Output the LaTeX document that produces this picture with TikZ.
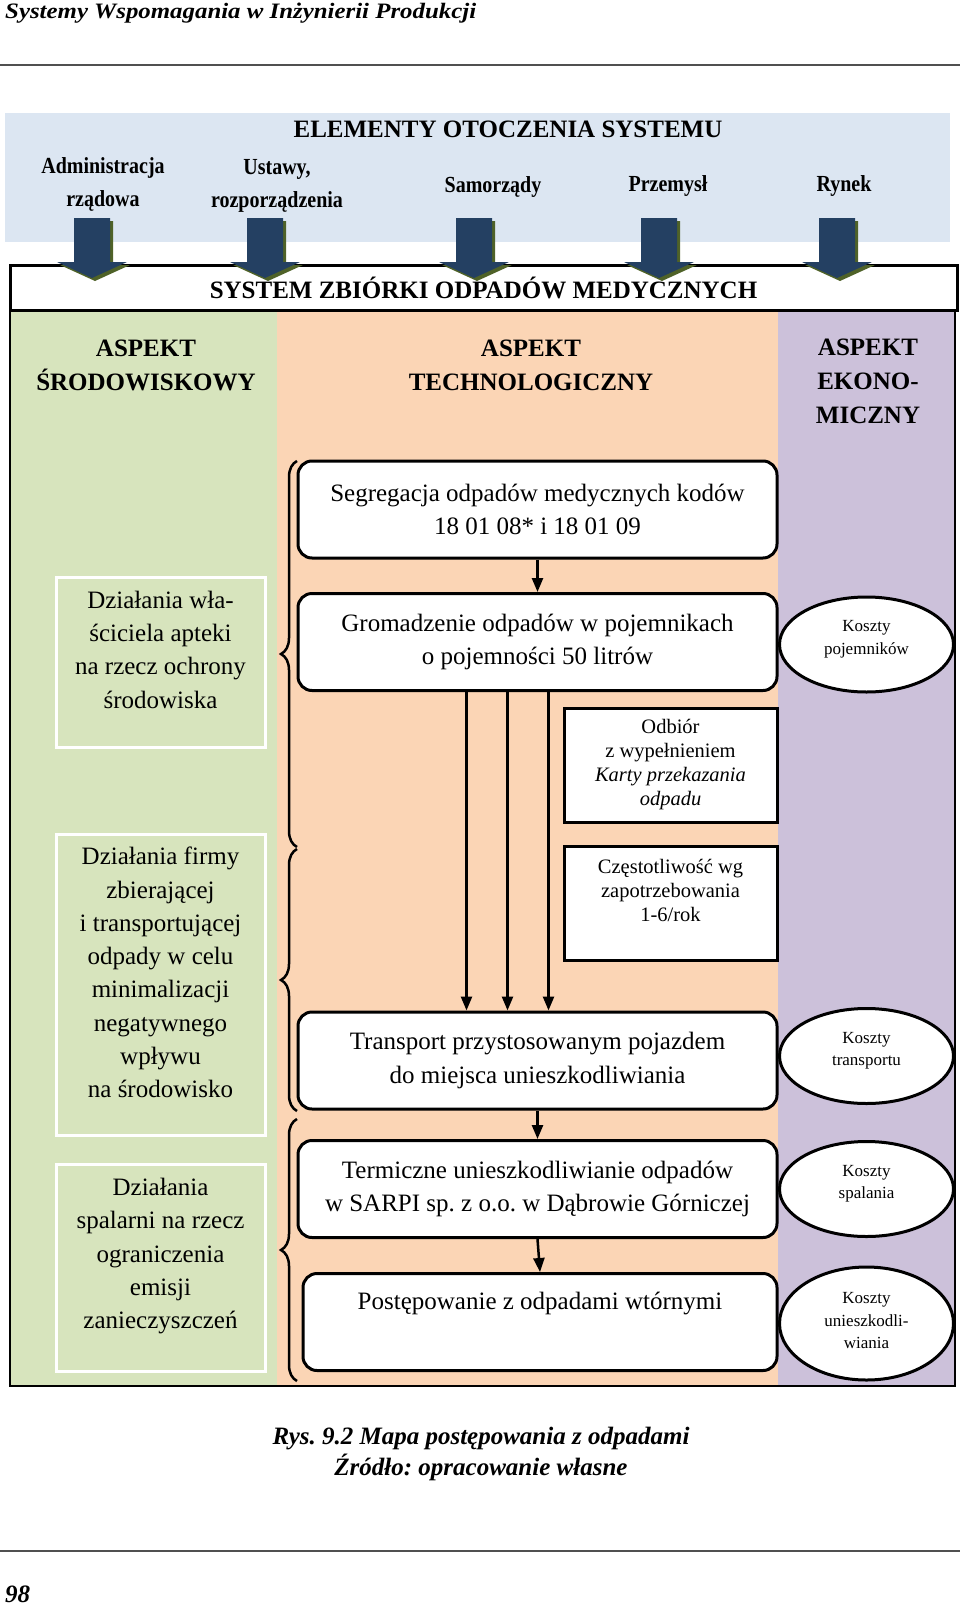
\documentclass[tikz,border=0pt]{standalone}
\usepackage{fontspec}
\setmainfont{Liberation Serif}
\newfontfamily\narrowfont[FakeStretch=0.87]{Liberation Serif}
\newfontfamily\titlefont[FakeStretch=1.13]{Liberation Serif}
\usetikzlibrary{positioning,shapes.geometric,arrows.meta,decorations.pathreplacing}
\frenchspacing

\definecolor{envblue}{RGB}{220,230,242}
\definecolor{envgreen}{RGB}{215,228,189}
\definecolor{techorange}{RGB}{251,213,181}
\definecolor{ecopurple}{RGB}{204,193,218}
\definecolor{arrownavy}{RGB}{36,64,98}
\definecolor{shadowgreen}{RGB}{79,98,40}
\definecolor{rulegray}{RGB}{80,80,80}

\begin{document}
\begin{tikzpicture}[
        x=1pt, y=-1pt,
        every node/.style={inner sep=0pt, align=center},
        header/.style={font=\fontsize{25}{34}\selectfont\bfseries},
        actor/.style={font=\narrowfont\fontsize{23}{33}\selectfont\bfseries},
        process/.style={draw, line width=3pt, rounded corners=14pt, fill=white,
                minimum width=479pt, minimum height=97pt, font=\fontsize{25}{33.5}\selectfont},
        note/.style={draw, line width=3pt, fill=white, minimum width=213pt,
                minimum height=114pt, font=\fontsize{20.5}{24}\selectfont},
        cost/.style={ellipse, draw, line width=3pt, fill=white, minimum width=174pt,
                minimum height=95pt, text depth=14pt, font=\fontsize{17}{22.5}\selectfont},
        envbox/.style={draw=white, line width=3pt, minimum width=209pt,
                font=\fontsize{25}{33.3}\selectfont},
        flow/.style={line width=2.5pt, -{Triangle[length=14pt,width=11pt]}},
        bracket/.style={line width=2.5pt, decorate, decoration={brace, amplitude=16pt}},
        caption/.style={font=\fontsize{25}{31}\selectfont\bfseries\itshape},
    ]
    \useasboundingbox (0,0) rectangle (960,1608);

    % page header and footer
    \node[anchor=base west, font=\titlefont\fontsize{22}{26}\selectfont\bfseries\itshape]
        (pagetitle) at (5,19) {Systemy Wspomagania w Inżynierii Produkcji};
    \draw[rulegray, line width=2pt] (0,65) -- (960,65);
    \draw[rulegray, line width=2pt] (0,1551) -- (960,1551);
    \node[anchor=base west, caption] (pageno) at (5,1602) {98};
    \node[caption] (figcaption) at (481,1454)
        {Rys. 9.2 Mapa postępowania z odpadami\\Źródło: opracowanie własne};

    % background areas
    \fill[envblue] (5,113) rectangle (950,242);
    \fill[envgreen] (10,310) rectangle (277,1386);
    \fill[techorange] (277,310) rectangle (778,1386);
    \fill[ecopurple] (778,310) rectangle (955,1386);
    \draw[line width=2pt] (10,310) -- (10,1386) -- (955,1386) -- (955,310);

    % system environment
    \node[header] (envtitle) at (508,129) {ELEMENTY OTOCZENIA SYSTEMU};
    \node[actor] (adm) at (103,184) {Administracja\\rządowa};
    \node[actor] (law) at (277,186) {Ustawy,\\rozporządzenia};
    \node[actor] (local) at (493,187) {Samorządy};
    \node[actor] (industry) at (668,186) {Przemysł};
    \node[actor] (market) at (844,186) {Rynek};

    \node[draw, line width=3pt, fill=white, minimum width=947pt, minimum height=45pt,
        header] (system) at (483.5,287.5) {SYSTEM ZBIÓRKI ODPADÓW MEDYCZNYCH};

    % block arrows into the system
    \foreach \ax in {92,265,474,659,837} {
        \fill[shadowgreen, shift={(3,3)}] (\ax-18,218) -- (\ax+18,218) -- (\ax+18,262)
            -- (\ax+35,262) -- (\ax,278) -- (\ax-35,262) -- (\ax-18,262) -- cycle;
        \fill[arrownavy] (\ax-18,218) -- (\ax+18,218) -- (\ax+18,262)
            -- (\ax+35,262) -- (\ax,278) -- (\ax-35,262) -- (\ax-18,262) -- cycle;
    }

    % aspects
    \node[header] (envhead) at (146,365) {ASPEKT\\ŚRODOWISKOWY};
    \node[header] (techhead) at (531,365) {ASPEKT\\TECHNOLOGICZNY};
    \node[header] (ecohead) at (868,381.5) {ASPEKT\\EKONO-\\MICZNY};

    % environmental actions
    \node[envbox, minimum height=170pt, text depth=25pt] (env1) at (160.5,662)
        {Działania wła-\\ściciela apteki\\na rzecz ochrony\\środowiska};
    \node[envbox, minimum height=301pt, text depth=24pt] (env2) at (160.5,984.5)
        {Działania firmy\\zbierającej\\i transportującej\\odpady w celu\\minimalizacji\\negatywnego\\wpływu\\na środowisko};
    \node[envbox, minimum height=207pt, text depth=28pt] (env3) at (160.5,1267.5)
        {Działania\\spalarni na rzecz\\ograniczenia\\emisji\\zanieczyszczeń};

    % technological chain
    \node[process] (segr) at (537.5,509.5)
        {Segregacja odpadów medycznych kodów\\18 01 08* i 18 01 09};
    \node[process] (grom) at (537.5,642)
        {Gromadzenie odpadów w pojemnikach\\o pojemności 50 litrów};
    \node[note] (odbior) at (670.5,765)
        {Odbiór\\z wypełnieniem\\\textit{Karty przekazania}\\\textit{odpadu}};
    \node[note, text depth=25pt] (czest) at (670.5,903)
        {Częstotliwość wg\\zapotrzebowania\\1-6/rok};
    \node[process] (trans) at (537.5,1060.5)
        {Transport przystosowanym pojazdem\\do miejsca unieszkodliwiania};
    \node[process] (term) at (537.5,1189)
        {Termiczne unieszkodliwianie odpadów\\w SARPI sp. z o.o. w Dąbrowie Górniczej};
    \node[process, minimum width=474pt, text depth=43pt] (post) at (540,1322)
        {Postępowanie z odpadami wtórnymi};

    \draw[flow] (segr) -- (grom);
    \foreach \dx in {-71,-30,11}
        \draw[flow] ([xshift=\dx pt]grom.south) -- ([xshift=\dx pt]grom.south |- trans.north);
    \draw[flow] (trans) -- (term);
    \draw[flow] (term.south) -- (post.north);

    \draw[bracket] (297,847) -- (297,461);
    \draw[bracket] (297,1111) -- (297,849);
    \draw[bracket] (297,1381) -- (297,1119);

    % economic costs
    \node[cost] (cost1) at (866.5,644.5) {Koszty\\pojemników};
    \node[cost] (cost2) at (866.5,1056) {Koszty\\transportu};
    \node[cost] (cost3) at (866.5,1189) {Koszty\\spalania};
    \node[cost, minimum height=113pt, text depth=6pt] (cost4) at (866.5,1323.5)
        {Koszty\\unieszkodli-\\wiania};
\end{tikzpicture}
\end{document}
